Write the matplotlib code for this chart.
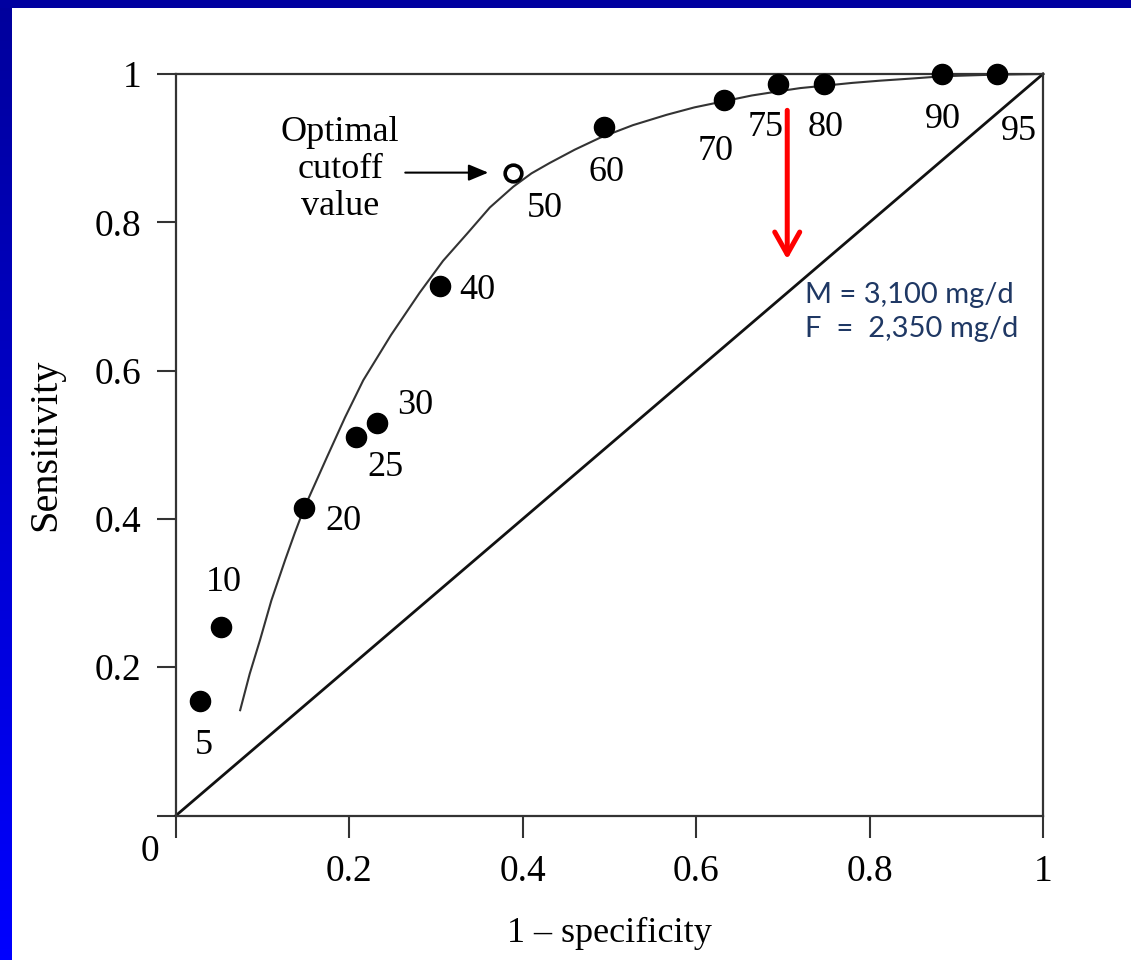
import numpy as np
import matplotlib
matplotlib.use("Agg")
import matplotlib.pyplot as plt
from matplotlib.colors import LinearSegmentedColormap

# ---------------- data ----------------
cutoff_labels = ["5", "10", "20", "25", "30", "40", "50", "60", "70", "75", "80", "90", "95"]
fpr = [0.028, 0.052, 0.148, 0.208, 0.232, 0.304, 0.389, 0.494, 0.632, 0.694, 0.747, 0.884, 0.947]
tpr = [0.154, 0.254, 0.415, 0.510, 0.529, 0.714, 0.867, 0.928, 0.965, 0.987, 0.987, 1.0, 1.0]
optimal_label = "50"

curve_x = [0.074, 0.085, 0.097, 0.110, 0.126, 0.137, 0.148, 0.174, 0.195, 0.216, 0.248,
           0.281, 0.308, 0.336, 0.362, 0.389, 0.410, 0.431, 0.460, 0.489, 0.527, 0.566,
           0.598, 0.631, 0.664, 0.697, 0.720, 0.746, 0.780, 0.812, 0.850, 0.885, 0.940, 1.0]
curve_y = [0.142, 0.191, 0.237, 0.290, 0.345, 0.381, 0.415, 0.483, 0.537, 0.587, 0.648,
           0.705, 0.748, 0.785, 0.820, 0.848, 0.866, 0.880, 0.898, 0.914, 0.931, 0.945,
           0.955, 0.963, 0.971, 0.977, 0.981, 0.984, 0.988, 0.991, 0.994, 0.997, 0.999, 1.0]

ticks = [0, 0.2, 0.4, 0.6, 0.8, 1.0]
tick_labels = ["", "0.2", "0.4", "0.6", "0.8", "1"]
xlabel = "1 – specificity"
ylabel = "Sensitivity"
annot_text = "Optimal\ncutoff\nvalue"
dose_text = "M = 3,100 mg/d\nF  =  2,350 mg/d"

# label offsets in pixels (dx right, dy up)
label_offsets = [(4, -44), (3, 45), (39, -14), (29, -30), (38, 18), (38, -4), (32, -36),
                 (2, -45), (-8, -52), (-12, -44), (2, -44), (0, -46), (22, -57)]

W, H = 1131, 960
fig = plt.figure(figsize=(W / 100, H / 100), dpi=100)
fig.patch.set_facecolor("white")

serif = ["Liberation Serif", "DejaVu Serif"]

# blue frame
lax = fig.add_axes([0, 0, 12 / W, 1])
grad = np.linspace(0, 1, 256).reshape(-1, 1)
cmap = LinearSegmentedColormap.from_list("bl", ["#00009C", "#0000FF"])
lax.imshow(grad, aspect="auto", cmap=cmap, extent=[0, 1, 0, 1], origin="upper")
lax.set_axis_off()
tax = fig.add_axes([0, 1 - 8 / H, 1, 8 / H])
tax.set_facecolor("#0000A0")
tax.set_xticks([]); tax.set_yticks([])
for s in tax.spines.values():
    s.set_visible(False)

x0, x1 = 176, 1043
y0, y1 = 815.5, 74
ax = fig.add_axes([x0 / W, 1 - y0 / H, (x1 - x0) / W, (y0 - y1) / H])
ax.set_xlim(0, 1)
ax.set_ylim(0, 1)

spine_c = "#333333"
for s in ax.spines.values():
    s.set_color(spine_c)
    s.set_linewidth(1.6)

ax.set_xticks(ticks)
ax.set_xticklabels(tick_labels, fontfamily=serif, fontsize=27)
ax.set_yticks(ticks)
ax.set_yticklabels(tick_labels, fontfamily=serif, fontsize=27)
ax.tick_params(axis="x", direction="out", length=16, width=1.5, color=spine_c, pad=12)
ax.tick_params(axis="y", direction="out", length=14, width=1.5, color=spine_c, pad=11)

ax.set_xlabel(xlabel, fontfamily=serif, fontsize=26, labelpad=20)
ax.set_ylabel(ylabel, fontfamily=serif, fontsize=29, labelpad=22)

fig.text(150 / W, 1 - 852 / H, "0", fontfamily=serif, fontsize=27, ha="center", va="center")

# diagonal
ax.plot([0, 1], [0, 1], color="#111111", lw=2.0, clip_on=False)
# fitted curve
ax.plot(curve_x, curve_y, color="#333333", lw=1.5, clip_on=False)

# points
for lab, x, y, off in zip(cutoff_labels, fpr, tpr, label_offsets):
    if lab == optimal_label:
        ax.plot([x], [y], "o", ms=12, mfc="white", mec="black", mew=2.6, clip_on=False, zorder=5)
    else:
        ax.plot([x], [y], "o", ms=14.5, color="black", clip_on=False, zorder=5)
    ax.annotate(lab, (x, y), xytext=off, textcoords="offset pixels",
                ha="center", va="center", fontfamily=serif, fontsize=26)

# optimal cutoff annotation
opt_i = cutoff_labels.index(optimal_label)
ax.annotate("", xy=(fpr[opt_i], tpr[opt_i]), xytext=(-108, 0), textcoords="offset pixels",
            arrowprops=dict(arrowstyle="-|>,head_length=0.6,head_width=0.25", color="black",
                            lw=1.5, shrinkA=0, shrinkB=18, mutation_scale=20))
ax.annotate(annot_text, (fpr[opt_i], tpr[opt_i]), xytext=(-173, 3), textcoords="offset pixels",
            ha="center", va="center", fontfamily=serif, fontsize=26, linespacing=1.15)

# red arrow
ax.annotate("", xy=(0.705, 0.750), xytext=(0.705, 0.951),
            arrowprops=dict(arrowstyle="->,head_length=0.8,head_width=0.45", color="#FF0000",
                            lw=3.6, shrinkA=0, shrinkB=0, mutation_scale=20))

ax.text(0.725, 0.720, dose_text, fontfamily=["Lato", "DejaVu Sans"], fontsize=21,
        color="#1F3864", ha="left", va="top", linespacing=1.42)

fig.savefig("out.png", dpi=100, facecolor="white")
